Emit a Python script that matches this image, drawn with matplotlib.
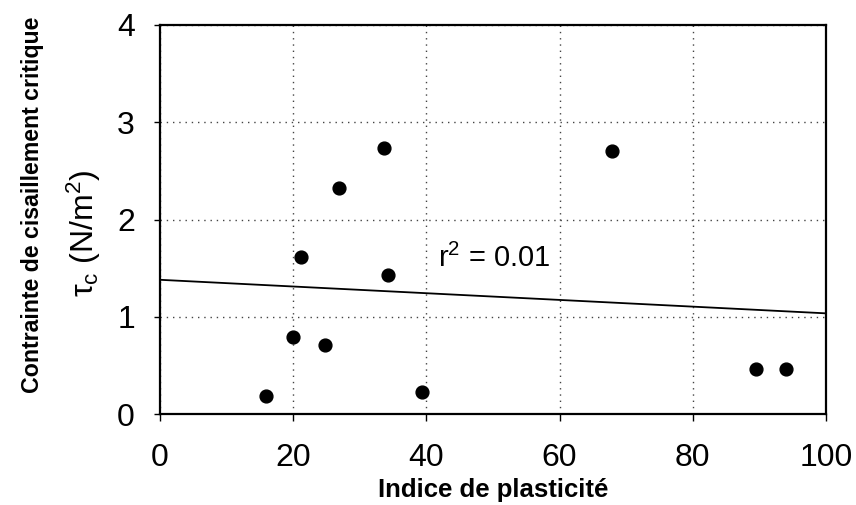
import matplotlib
matplotlib.use("Agg")
import matplotlib.pyplot as plt
import numpy as np

plt.rcParams['font.family'] = ['Liberation Sans', 'DejaVu Sans']

plasticity = [15.9, 20.0, 21.1, 24.7, 26.9, 33.6, 34.3, 39.4, 67.9, 89.5, 94.0]
tau_c = [0.19, 0.79, 1.61, 0.71, 2.32, 2.74, 1.43, 0.23, 2.70, 0.46, 0.46]
fit_x = [0, 100]
fit_y = [1.38, 1.035]
r2_label = "r$\\mathregular{^2}$ = 0.01"

fig = plt.figure(figsize=(8.56, 5.05), dpi=100)
ax = fig.add_axes([160/856, 1-414/505, 666/856, 389/505])

ax.plot(fit_x, fit_y, color='black', lw=1.3, zorder=2)
ax.scatter(plasticity, tau_c, s=85, color='black', zorder=3)

ax.set_xlim(0, 100)
ax.set_ylim(0, 4)
ax.set_xticks([0, 20, 40, 60, 80, 100])
ax.set_yticks([0, 1, 2, 3, 4])
ax.grid(True, linestyle=(0, (1, 3.5)), color='#444444', lw=1.0)
for s in ax.spines.values():
    s.set_linewidth(1.6)
ax.tick_params(axis='x', direction='out', length=5, width=1, labelsize=23, pad=16)
ax.tick_params(axis='y', direction='out', length=4, width=1, labelsize=23, pad=14)

ax.text(41.7, 1.6, r2_label, fontsize=21, va='center', ha='left')

ax.set_xlabel("Indice de plasticité", fontsize=18.5, fontweight='bold', labelpad=3.5)
fig.text(33/856, 1-205/505, "Contrainte de cisaillement critique", rotation=90,
         fontsize=16.7, fontweight='bold', ha='center', va='center')
fig.text(84/856, 1-233/505, r"$\mathregular{\tau_c}$ (N/m$\mathregular{^2}$)", rotation=90,
         fontsize=23, ha='center', va='center')

fig.savefig("out.png", dpi=100)
